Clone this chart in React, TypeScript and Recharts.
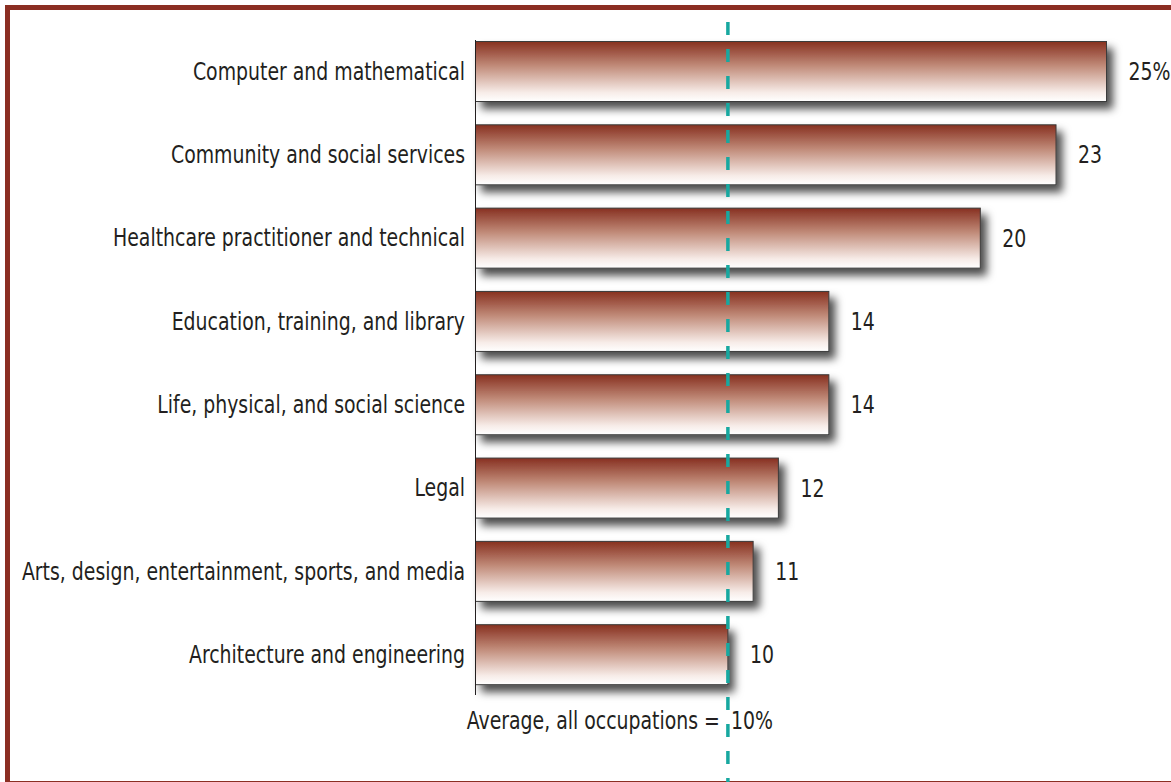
import React from 'react';
import { BarChart, Bar, XAxis, YAxis, ReferenceLine, LabelList } from 'recharts';

const categories = [
  'Computer and mathematical',
  'Community and social services',
  'Healthcare practitioner and technical',
  'Education, training, and library',
  'Life, physical, and social science',
  'Legal',
  'Arts, design, entertainment, sports, and media',
  'Architecture and engineering',
];

const growth = [25, 23, 20, 14, 14, 12, 11, 10];

const averageAll = 10;

const data = categories.map((name, i) => ({ name, value: growth[i] }));

const FONT = '"DejaVu Sans Condensed", "Liberation Sans Narrow", sans-serif';
const INK = '#231f20';
const FRAME = '#8b2e22';
const TEAL = '#17a8a0';
// the original uses a condensed face; squeeze the installed one to match
const SQUEEZE = 0.875;

const NarrowText = ({ x, y, anchor, children }: any) => (
  <g transform={`translate(${x},${y})`}>
    <text
      transform={`scale(${SQUEEZE},1)`}
      textAnchor={anchor}
      dy="0.36em"
      fontFamily={FONT}
      fontSize={24}
      fill={INK}
    >
      {children}
    </text>
  </g>
);

const CategoryTick = (props: any) => {
  const { x, y, payload } = props;
  return <NarrowText x={x} y={y} anchor="end">{payload.value}</NarrowText>;
};

const ValueLabel = (props: any) => {
  const { x, y, width, height, value } = props;
  const text = value === growth[0] ? `${value}%` : `${value}`;
  return <NarrowText x={x + width + 22} y={y + height / 2} anchor="start">{text}</NarrowText>;
};

const GradientBar = (props: any) => {
  const { x, y, width, height } = props;
  return (
    <rect
      x={x}
      y={y}
      width={width}
      height={height}
      fill="url(#barGrad)"
      stroke="#3a3a3a"
      strokeWidth={1}
      filter="url(#barShadow)"
    />
  );
};

// category axis line, a little shorter than the plot band
const BaseLine = (props: any) => {
  const { x1, y1, y2 } = props;
  const top = Math.min(y1, y2);
  const bottom = Math.max(y1, y2);
  return <line x1={x1} x2={x1} y1={top + 10.5} y2={bottom - 1} stroke={INK} strokeWidth={1} />;
};

const AverageLine = (props: any) => {
  const { x1, y1, y2 } = props;
  const top = Math.min(y1, y2);
  const bottom = Math.max(y1, y2);
  return (
    <g>
      <line
        x1={x1}
        x2={x1}
        y1={top - 7.5}
        y2={bottom + 86}
        stroke={TEAL}
        strokeWidth={3.5}
        strokeDasharray="13 14"
      />
      <NarrowText x={x1 - 8} y={720} anchor="end">Average, all occupations =</NarrowText>
      <NarrowText x={x1 + 3} y={720} anchor="start">{`${averageAll}%`}</NarrowText>
    </g>
  );
};

export default function App() {
  return (
    <div style={{ position: 'absolute', left: 0, top: 0, width: 1171, height: 782, background: '#fff' }}>
      <div
        style={{
          position: 'absolute',
          left: 5,
          top: 5,
          width: 1166,
          height: 777,
          boxSizing: 'border-box',
          borderLeft: `5px solid ${FRAME}`,
          borderTop: `5px solid ${FRAME}`,
          borderBottom: `1.5px solid ${FRAME}`,
        }}
      />
      <div style={{ position: 'absolute', left: 0, top: 0 }}>
        <BarChart
          width={1171}
          height={782}
          layout="vertical"
          data={data}
          margin={{ top: 29.5, right: 64.5, bottom: 86, left: 0 }}
        >
          <defs>
            <linearGradient id="barGrad" x1="0" y1="0" x2="0" y2="1">
              <stop offset="0%" stopColor="#873020" />
              <stop offset="40%" stopColor="#c08a78" />
              <stop offset="85%" stopColor="#f7ece8" />
              <stop offset="100%" stopColor="#ffffff" />
            </linearGradient>
            <filter id="barShadow" x="-5%" y="-20%" width="115%" height="175%">
              <feDropShadow dx={6} dy={7} stdDeviation={4} floodColor="#000" floodOpacity={0.7} />
            </filter>
          </defs>
          <XAxis type="number" domain={[0, 25]} hide />
          <YAxis
            type="category"
            dataKey="name"
            width={475.5}
            tickLine={false}
            tickMargin={4.5}
            axisLine={false}
            tick={<CategoryTick />}
            interval={0}
          />
          <ReferenceLine x={0} shape={<BaseLine />} ifOverflow="visible" />
          <Bar dataKey="value" barSize={60} shape={<GradientBar />} isAnimationActive={false}>
            <LabelList dataKey="value" content={<ValueLabel />} />
          </Bar>
          <ReferenceLine x={averageAll} shape={<AverageLine />} ifOverflow="visible" />
        </BarChart>
      </div>
    </div>
  );
}
